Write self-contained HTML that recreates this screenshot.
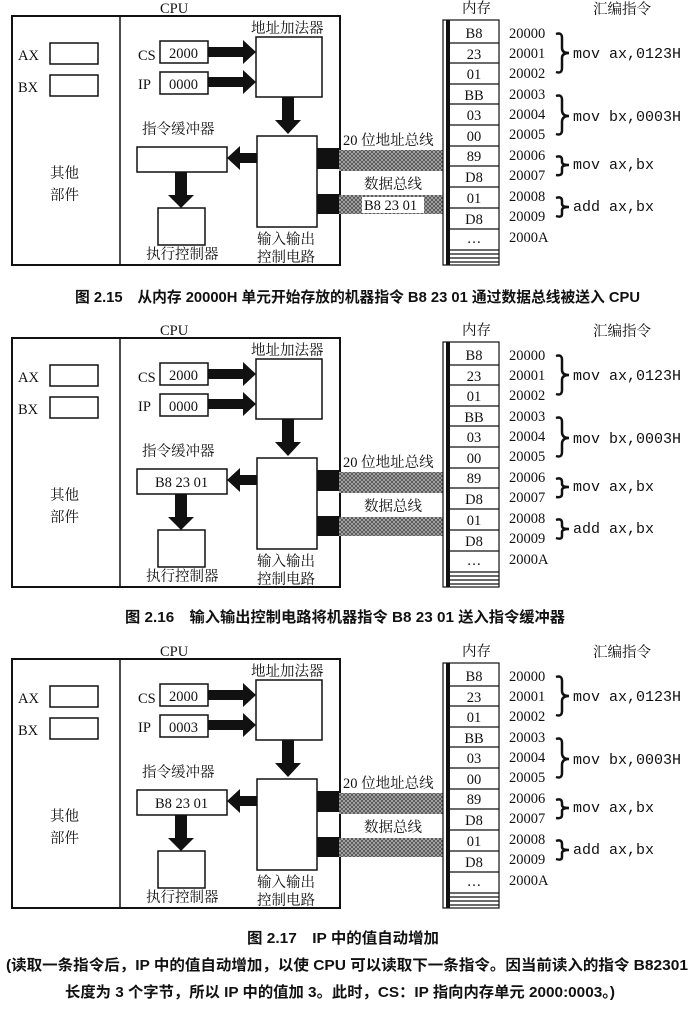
<!DOCTYPE html>
<html><head><meta charset="utf-8"><style>
html,body{margin:0;padding:0;background:#fff;}
svg{display:block}
.s{font-family:"Liberation Serif","Noto Serif CJK SC","Noto Sans CJK SC",serif;font-size:14.5px;fill:#111}
.m{font-family:"Liberation Mono",monospace;font-size:15px;fill:#111}
.c{font-family:"Liberation Sans","Noto Sans CJK SC",sans-serif;font-size:15px;fill:#111;font-weight:bold}
.b{fill:#fff;stroke:#111;stroke-width:1.5}
</style></head><body>
<svg width="693" height="1009" viewBox="0 0 693 1009" xmlns="http://www.w3.org/2000/svg">
<defs>
<pattern id="h" width="4" height="4" patternUnits="userSpaceOnUse">
<rect width="4" height="4" fill="#bbb"/><path d="M0,0L4,4M4,0L0,4" stroke="#555" stroke-width="1"/>
</pattern>
</defs>

<!-- Diagram 1 -->
<g transform="translate(0,0)">
<text class="s" x="160" y="13">CPU</text>
<rect x="12" y="16" width="328" height="249" fill="none" stroke="#111" stroke-width="2"/>
<line x1="120" y1="16" x2="120" y2="265" stroke="#111" stroke-width="1.5"/>
<text class="s" x="18" y="60">AX</text><rect class="b" x="50" y="43" width="48" height="21"/>
<text class="s" x="18" y="92">BX</text><rect class="b" x="50" y="75" width="48" height="21"/>
<text class="s" x="50" y="178">其他</text><text class="s" x="50" y="200">部件</text>
<text class="s" x="138" y="60">CS</text><rect class="b" x="160" y="41" width="48" height="22"/><text class="s" x="169" y="58">2000</text>
<text class="s" x="138" y="89">IP</text><rect class="b" x="160" y="72" width="48" height="22"/><text class="s" x="169" y="89">0000</text>
<polygon points="208,47 243,47 243,40 256,52 243,64 243,57 208,57" fill="#111"/>
<polygon points="208,77 243,77 243,70 256,82 243,94 243,87 208,87" fill="#111"/>
<text class="s" x="251" y="33">地址加法器</text>
<rect class="b" x="256" y="37" width="66" height="60"/>
<polygon points="282,97 294,97 294,120 301,120 288,134 275,120 282,120" fill="#111"/>
<rect class="b" x="257" y="136" width="60" height="91"/>
<text class="s" x="257" y="244">输入输出</text><text class="s" x="257" y="262">控制电路</text>
<text class="s" x="142" y="134">指令缓冲器</text>
<rect class="b" x="137" y="147" width="90" height="25"/>
<polygon points="257,153 240,153 240,146 227,158 240,170 240,163 257,163" fill="#111"/>
<polygon points="175,172 187,172 187,195 194,195 181,208 168,195 175,195" fill="#111"/>
<rect class="b" x="158" y="208" width="47" height="37"/>
<text class="s" x="146" y="259">执行控制器</text>
<rect x="317" y="148" width="22" height="21" fill="#111"/><rect x="317" y="194" width="22" height="20" fill="#111"/>
<rect x="339" y="150" width="104" height="21" fill="url(#h)"/><rect x="339" y="195" width="104" height="19" fill="url(#h)"/>
<text class="s" x="343" y="145">20 位地址总线</text>
<text class="s" x="364" y="189">数据总线</text>
<rect x="362" y="197" width="62" height="16" fill="#fff"/><text class="s" x="364" y="210">B8 23 01</text>
<text class="s" x="462" y="13">内存</text><text class="s" x="593" y="14">汇编指令</text>
<rect x="443" y="20" width="56" height="245" fill="#fff" stroke="#111" stroke-width="1.2"/>
<rect x="446" y="20" width="4" height="245" fill="#111"/>
<g stroke="#111" stroke-width="1.2">
<line x1="450" y1="43" x2="499" y2="43"/><line x1="450" y1="63" x2="499" y2="63"/><line x1="450" y1="84" x2="499" y2="84"/><line x1="450" y1="104" x2="499" y2="104"/><line x1="450" y1="125" x2="499" y2="125"/><line x1="450" y1="146" x2="499" y2="146"/><line x1="450" y1="166" x2="499" y2="166"/><line x1="450" y1="187" x2="499" y2="187"/><line x1="450" y1="208" x2="499" y2="208"/><line x1="450" y1="229" x2="499" y2="229"/><line x1="450" y1="250" x2="499" y2="250"/><line x1="450" y1="254" x2="499" y2="254"/><line x1="450" y1="258" x2="499" y2="258"/><line x1="450" y1="262" x2="499" y2="262"/>
</g>
<g class="s" text-anchor="middle">
<text x="474" y="38">B8</text><text x="474" y="59">23</text><text x="474" y="79">01</text><text x="474" y="100">BB</text><text x="474" y="120">03</text><text x="474" y="141">00</text><text x="474" y="161">89</text><text x="474" y="182">D8</text><text x="474" y="203">01</text><text x="474" y="224">D8</text><text x="474" y="243">…</text>
</g>
<g class="s">
<text x="509" y="38">20000</text><text x="509" y="58">20001</text><text x="509" y="78">20002</text><text x="509" y="99">20003</text><text x="509" y="119">20004</text><text x="509" y="139">20005</text><text x="509" y="160">20006</text><text x="509" y="180">20007</text><text x="509" y="201">20008</text><text x="509" y="221">20009</text><text x="509" y="242">2000A</text>
</g>
<g fill="none" stroke="#111" stroke-width="2.5">
<path d="M556,34 Q562,32 562,38 L562,48 Q562,53 569,53 Q562,53 562,58 L562,68 Q562,74 556,72"/>
<path d="M556,96 Q562,94 562,100 L562,110 Q562,116 569,116 Q562,116 562,122 L562,130 Q562,136 556,134"/>
<path d="M556,157 Q562,155 562,160 L562,162 Q562,165 569,165 Q562,165 562,168 L562,172 Q562,176 556,175"/>
<path d="M556,198 Q562,196 562,201 L562,204 Q562,207 569,207 Q562,207 562,210 L562,214 Q562,218 556,216"/>
</g>
<g class="m"><text x="573" y="58">mov ax,0123H</text><text x="573" y="121">mov bx,0003H</text><text x="573" y="169">mov ax,bx</text><text x="573" y="211">add ax,bx</text></g>
</g>
<text class="c" x="75" y="302" textLength="565" lengthAdjust="spacingAndGlyphs">图 2.15　从内存 20000H 单元开始存放的机器指令 B8 23 01 通过数据总线被送入 CPU</text>

<!-- Diagram 2 -->
<g transform="translate(0,322)">
<text class="s" x="160" y="13">CPU</text>
<rect x="12" y="16" width="328" height="249" fill="none" stroke="#111" stroke-width="2"/>
<line x1="120" y1="16" x2="120" y2="265" stroke="#111" stroke-width="1.5"/>
<text class="s" x="18" y="60">AX</text><rect class="b" x="50" y="43" width="48" height="21"/>
<text class="s" x="18" y="92">BX</text><rect class="b" x="50" y="75" width="48" height="21"/>
<text class="s" x="50" y="178">其他</text><text class="s" x="50" y="200">部件</text>
<text class="s" x="138" y="60">CS</text><rect class="b" x="160" y="41" width="48" height="22"/><text class="s" x="169" y="58">2000</text>
<text class="s" x="138" y="89">IP</text><rect class="b" x="160" y="72" width="48" height="22"/><text class="s" x="169" y="89">0000</text>
<polygon points="208,47 243,47 243,40 256,52 243,64 243,57 208,57" fill="#111"/>
<polygon points="208,77 243,77 243,70 256,82 243,94 243,87 208,87" fill="#111"/>
<text class="s" x="251" y="33">地址加法器</text>
<rect class="b" x="256" y="37" width="66" height="60"/>
<polygon points="282,97 294,97 294,120 301,120 288,134 275,120 282,120" fill="#111"/>
<rect class="b" x="257" y="136" width="60" height="91"/>
<text class="s" x="257" y="244">输入输出</text><text class="s" x="257" y="262">控制电路</text>
<text class="s" x="142" y="134">指令缓冲器</text>
<rect class="b" x="137" y="147" width="90" height="25"/><text class="s" x="155" y="165">B8 23 01</text>
<polygon points="257,153 240,153 240,146 227,158 240,170 240,163 257,163" fill="#111"/>
<polygon points="175,172 187,172 187,195 194,195 181,208 168,195 175,195" fill="#111"/>
<rect class="b" x="158" y="208" width="47" height="37"/>
<text class="s" x="146" y="259">执行控制器</text>
<rect x="317" y="148" width="22" height="21" fill="#111"/><rect x="317" y="194" width="22" height="20" fill="#111"/>
<rect x="339" y="150" width="104" height="21" fill="url(#h)"/><rect x="339" y="195" width="104" height="19" fill="url(#h)"/>
<text class="s" x="343" y="145">20 位地址总线</text>
<text class="s" x="364" y="189">数据总线</text>
<text class="s" x="462" y="13">内存</text><text class="s" x="593" y="14">汇编指令</text>
<rect x="443" y="20" width="56" height="245" fill="#fff" stroke="#111" stroke-width="1.2"/>
<rect x="446" y="20" width="4" height="245" fill="#111"/>
<g stroke="#111" stroke-width="1.2">
<line x1="450" y1="43" x2="499" y2="43"/><line x1="450" y1="63" x2="499" y2="63"/><line x1="450" y1="84" x2="499" y2="84"/><line x1="450" y1="104" x2="499" y2="104"/><line x1="450" y1="125" x2="499" y2="125"/><line x1="450" y1="146" x2="499" y2="146"/><line x1="450" y1="166" x2="499" y2="166"/><line x1="450" y1="187" x2="499" y2="187"/><line x1="450" y1="208" x2="499" y2="208"/><line x1="450" y1="229" x2="499" y2="229"/><line x1="450" y1="250" x2="499" y2="250"/><line x1="450" y1="254" x2="499" y2="254"/><line x1="450" y1="258" x2="499" y2="258"/><line x1="450" y1="262" x2="499" y2="262"/>
</g>
<g class="s" text-anchor="middle">
<text x="474" y="38">B8</text><text x="474" y="59">23</text><text x="474" y="79">01</text><text x="474" y="100">BB</text><text x="474" y="120">03</text><text x="474" y="141">00</text><text x="474" y="161">89</text><text x="474" y="182">D8</text><text x="474" y="203">01</text><text x="474" y="224">D8</text><text x="474" y="243">…</text>
</g>
<g class="s">
<text x="509" y="38">20000</text><text x="509" y="58">20001</text><text x="509" y="78">20002</text><text x="509" y="99">20003</text><text x="509" y="119">20004</text><text x="509" y="139">20005</text><text x="509" y="160">20006</text><text x="509" y="180">20007</text><text x="509" y="201">20008</text><text x="509" y="221">20009</text><text x="509" y="242">2000A</text>
</g>
<g fill="none" stroke="#111" stroke-width="2.5">
<path d="M556,34 Q562,32 562,38 L562,48 Q562,53 569,53 Q562,53 562,58 L562,68 Q562,74 556,72"/>
<path d="M556,96 Q562,94 562,100 L562,110 Q562,116 569,116 Q562,116 562,122 L562,130 Q562,136 556,134"/>
<path d="M556,157 Q562,155 562,160 L562,162 Q562,165 569,165 Q562,165 562,168 L562,172 Q562,176 556,175"/>
<path d="M556,198 Q562,196 562,201 L562,204 Q562,207 569,207 Q562,207 562,210 L562,214 Q562,218 556,216"/>
</g>
<g class="m"><text x="573" y="58">mov ax,0123H</text><text x="573" y="121">mov bx,0003H</text><text x="573" y="169">mov ax,bx</text><text x="573" y="211">add ax,bx</text></g>
</g>
<text class="c" x="125" y="622" textLength="440" lengthAdjust="spacingAndGlyphs">图 2.16　输入输出控制电路将机器指令 B8 23 01 送入指令缓冲器</text>

<!-- Diagram 3 -->
<g transform="translate(0,643)">
<text class="s" x="160" y="13">CPU</text>
<rect x="12" y="16" width="328" height="249" fill="none" stroke="#111" stroke-width="2"/>
<line x1="120" y1="16" x2="120" y2="265" stroke="#111" stroke-width="1.5"/>
<text class="s" x="18" y="60">AX</text><rect class="b" x="50" y="43" width="48" height="21"/>
<text class="s" x="18" y="92">BX</text><rect class="b" x="50" y="75" width="48" height="21"/>
<text class="s" x="50" y="178">其他</text><text class="s" x="50" y="200">部件</text>
<text class="s" x="138" y="60">CS</text><rect class="b" x="160" y="41" width="48" height="22"/><text class="s" x="169" y="58">2000</text>
<text class="s" x="138" y="89">IP</text><rect class="b" x="160" y="72" width="48" height="22"/><text class="s" x="169" y="89">0003</text>
<polygon points="208,47 243,47 243,40 256,52 243,64 243,57 208,57" fill="#111"/>
<polygon points="208,77 243,77 243,70 256,82 243,94 243,87 208,87" fill="#111"/>
<text class="s" x="251" y="33">地址加法器</text>
<rect class="b" x="256" y="37" width="66" height="60"/>
<polygon points="282,97 294,97 294,120 301,120 288,134 275,120 282,120" fill="#111"/>
<rect class="b" x="257" y="136" width="60" height="91"/>
<text class="s" x="257" y="244">输入输出</text><text class="s" x="257" y="262">控制电路</text>
<text class="s" x="142" y="134">指令缓冲器</text>
<rect class="b" x="137" y="147" width="90" height="25"/><text class="s" x="155" y="165">B8 23 01</text>
<polygon points="257,153 240,153 240,146 227,158 240,170 240,163 257,163" fill="#111"/>
<polygon points="175,172 187,172 187,195 194,195 181,208 168,195 175,195" fill="#111"/>
<rect class="b" x="158" y="208" width="47" height="37"/>
<text class="s" x="146" y="259">执行控制器</text>
<rect x="317" y="148" width="22" height="21" fill="#111"/><rect x="317" y="194" width="22" height="20" fill="#111"/>
<rect x="339" y="150" width="104" height="21" fill="url(#h)"/><rect x="339" y="195" width="104" height="19" fill="url(#h)"/>
<text class="s" x="343" y="145">20 位地址总线</text>
<text class="s" x="364" y="189">数据总线</text>
<text class="s" x="462" y="13">内存</text><text class="s" x="593" y="14">汇编指令</text>
<rect x="443" y="20" width="56" height="245" fill="#fff" stroke="#111" stroke-width="1.2"/>
<rect x="446" y="20" width="4" height="245" fill="#111"/>
<g stroke="#111" stroke-width="1.2">
<line x1="450" y1="43" x2="499" y2="43"/><line x1="450" y1="63" x2="499" y2="63"/><line x1="450" y1="84" x2="499" y2="84"/><line x1="450" y1="104" x2="499" y2="104"/><line x1="450" y1="125" x2="499" y2="125"/><line x1="450" y1="146" x2="499" y2="146"/><line x1="450" y1="166" x2="499" y2="166"/><line x1="450" y1="187" x2="499" y2="187"/><line x1="450" y1="208" x2="499" y2="208"/><line x1="450" y1="229" x2="499" y2="229"/><line x1="450" y1="250" x2="499" y2="250"/><line x1="450" y1="254" x2="499" y2="254"/><line x1="450" y1="258" x2="499" y2="258"/><line x1="450" y1="262" x2="499" y2="262"/>
</g>
<g class="s" text-anchor="middle">
<text x="474" y="38">B8</text><text x="474" y="59">23</text><text x="474" y="79">01</text><text x="474" y="100">BB</text><text x="474" y="120">03</text><text x="474" y="141">00</text><text x="474" y="161">89</text><text x="474" y="182">D8</text><text x="474" y="203">01</text><text x="474" y="224">D8</text><text x="474" y="243">…</text>
</g>
<g class="s">
<text x="509" y="38">20000</text><text x="509" y="58">20001</text><text x="509" y="78">20002</text><text x="509" y="99">20003</text><text x="509" y="119">20004</text><text x="509" y="139">20005</text><text x="509" y="160">20006</text><text x="509" y="180">20007</text><text x="509" y="201">20008</text><text x="509" y="221">20009</text><text x="509" y="242">2000A</text>
</g>
<g fill="none" stroke="#111" stroke-width="2.5">
<path d="M556,34 Q562,32 562,38 L562,48 Q562,53 569,53 Q562,53 562,58 L562,68 Q562,74 556,72"/>
<path d="M556,96 Q562,94 562,100 L562,110 Q562,116 569,116 Q562,116 562,122 L562,130 Q562,136 556,134"/>
<path d="M556,157 Q562,155 562,160 L562,162 Q562,165 569,165 Q562,165 562,168 L562,172 Q562,176 556,175"/>
<path d="M556,198 Q562,196 562,201 L562,204 Q562,207 569,207 Q562,207 562,210 L562,214 Q562,218 556,216"/>
</g>
<g class="m"><text x="573" y="58">mov ax,0123H</text><text x="573" y="121">mov bx,0003H</text><text x="573" y="169">mov ax,bx</text><text x="573" y="211">add ax,bx</text></g>
</g>
<text class="c" x="247" y="943" textLength="192" lengthAdjust="spacingAndGlyphs">图 2.17　IP 中的值自动增加</text>
<text class="c" x="6" y="970" textLength="682" lengthAdjust="spacingAndGlyphs">(读取一条指令后，IP 中的值自动增加，以使 CPU 可以读取下一条指令。因当前读入的指令 B82301</text>
<text class="c" x="65" y="997" textLength="550" lengthAdjust="spacingAndGlyphs">长度为 3 个字节，所以 IP 中的值加 3。此时，CS：IP 指向内存单元 2000:0003。)</text>
</svg>
</body></html>
